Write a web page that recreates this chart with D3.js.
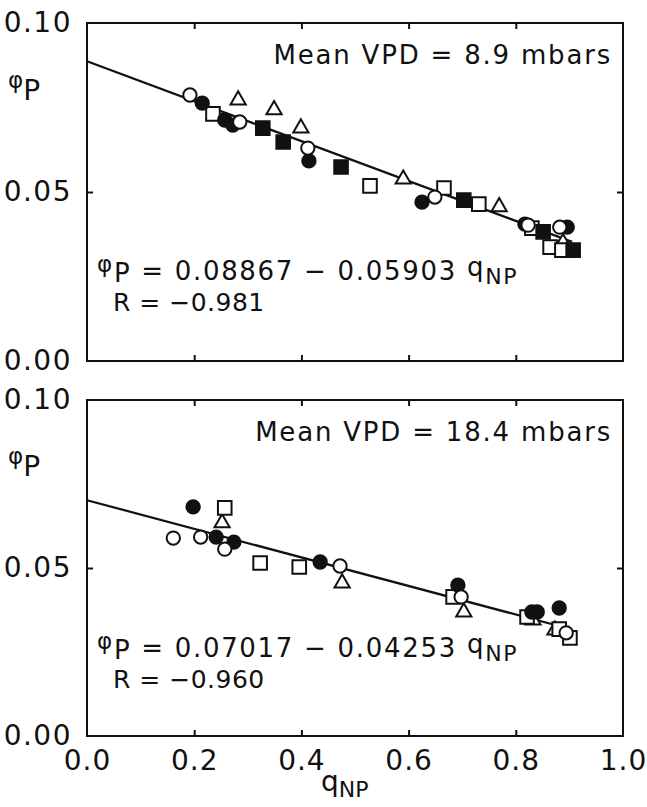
<!DOCTYPE html>
<html>
<head>
<meta charset="utf-8">
<script src="https://cdn.jsdelivr.net/npm/d3@7"></script>
<style>
  body { margin: 0; background: #fff; }
  svg { display: block; font-family: 'DejaVu Sans', sans-serif; }
  text { fill: #111; }
</style>
</head>
<body>
<svg id="chart" width="647" height="807"></svg>
<script>
// x tick labels
const xTicks = [0, 0.2, 0.4, 0.6, 0.8, 1.0]
const yTicks = [0, 0.05, 0.1]

// top panel, mean VPD 8.9 mbars  -- [qNP, phiP]
const topOpenCircle = [[0.192, 0.0787], [0.285, 0.0707], [0.412, 0.0630], [0.649, 0.0485], [0.823, 0.0402], [0.882, 0.0396]]
const topFilledCircle = [[0.215, 0.0763], [0.257, 0.0713], [0.272, 0.0698], [0.414, 0.0592], [0.625, 0.0470], [0.817, 0.0405], [0.896, 0.0396]]
const topOpenSquare = [[0.235, 0.0731], [0.528, 0.0518], [0.666, 0.0512], [0.731, 0.0464], [0.830, 0.0393], [0.864, 0.0337], [0.886, 0.0328]]
const topFilledSquare = [[0.328, 0.0689], [0.366, 0.0648], [0.474, 0.0574], [0.703, 0.0476], [0.851, 0.0382], [0.907, 0.0328]]
const topOpenTriangle = [[0.282, 0.0772], [0.349, 0.0743], [0.399, 0.0689], [0.590, 0.0538], [0.769, 0.0456], [0.888, 0.0350]]
const topFit = { a: 0.08867, b: 0.05903, r: -0.981, vpd: 8.9 }

// bottom panel, mean VPD 18.4 mbars
const botOpenCircle = [[0.161, 0.0589], [0.212, 0.0592], [0.257, 0.0556], [0.472, 0.0506], [0.698, 0.0414], [0.894, 0.0307]]
const botFilledCircle = [[0.198, 0.0682], [0.241, 0.0592], [0.274, 0.0577], [0.435, 0.0518], [0.692, 0.0449], [0.830, 0.0369], [0.840, 0.0369], [0.881, 0.0381]]
const botOpenSquare = [[0.257, 0.0679], [0.323, 0.0515], [0.396, 0.0503], [0.683, 0.0414], [0.821, 0.0354], [0.881, 0.0318], [0.901, 0.0292]]
const botOpenTriangle = [[0.252, 0.0634], [0.476, 0.0455], [0.703, 0.0369], [0.832, 0.0345], [0.873, 0.0315]]
const botFit = { a: 0.07017, b: 0.04253, r: -0.960, vpd: 18.4 }

const svg = d3.select('#chart')
const x = d3.scaleLinear().domain([0, 1]).range([87, 623])

const sym = {
  circle: d3.symbol().type(d3.symbolCircle).size(140),
  square: d3.symbol().type(d3.symbolSquare).size(185),
  triangle: d3.symbol().type(d3.symbolTriangle).size(100),
}

function panel({ top, bottom, series, fit, showX }) {
  const y = d3.scaleLinear().domain([0, 0.1]).range([bottom, top])
  const g = svg.append('g')

  // frame
  g.append('rect')
    .attr('x', x(0)).attr('y', y(0.1))
    .attr('width', x(1) - x(0)).attr('height', y(0) - y(0.1))
    .attr('fill', 'none').attr('stroke', '#111').attr('stroke-width', 2)

  // inward ticks on all sides
  const inner = [0.2, 0.4, 0.6, 0.8]
  g.append('g').attr('transform', `translate(0,${y(0)})`)
    .call(d3.axisBottom(x).tickValues(inner).tickSize(-6).tickFormat(''))
  g.append('g').attr('transform', `translate(0,${y(0.1)})`)
    .call(d3.axisTop(x).tickValues(inner).tickSize(-6).tickFormat(''))
  g.append('g').attr('transform', `translate(${x(0)},0)`)
    .call(d3.axisLeft(y).tickValues([0.05]).tickSize(-6).tickFormat(''))
  g.append('g').attr('transform', `translate(${x(1)},0)`)
    .call(d3.axisRight(y).tickValues([0.05]).tickSize(-6).tickFormat(''))
  g.selectAll('.domain').remove()
  g.selectAll('.tick line').attr('stroke', '#111').attr('stroke-width', 2)

  // y tick labels
  const yl = g.append('g').attr('transform', `translate(${x(0)},0)`)
    .call(d3.axisLeft(y).tickValues(yTicks).tickSize(0).tickPadding(15).tickFormat(d3.format('.2f')))
  yl.select('.domain').remove()
  yl.selectAll('text').attr('font-size', 28).attr('font-family', 'DejaVu Sans')
    .attr('letter-spacing', 1.5).attr('fill', '#111')

  if (showX) {
    const xl = g.append('g').attr('transform', `translate(0,${y(0)})`)
      .call(d3.axisBottom(x).tickValues(xTicks).tickSize(0).tickPadding(14).tickFormat(d3.format('.1f')))
    xl.select('.domain').remove()
    xl.selectAll('text').attr('font-size', 28).attr('font-family', 'DejaVu Sans')
      .attr('letter-spacing', 1).attr('fill', '#111')
  }

  // y label
  const lab = g.append('text').attr('x', 8).attr('y', y(0.08) + 5).attr('font-size', 28)
  lab.append('tspan').text('φ').attr('font-size', 23).attr('dy', -8)
  lab.append('tspan').text('P').attr('dy', 12)

  // regression line
  const line = d3.line().x((d) => x(d)).y((d) => y(fit.a - fit.b * d))
  g.append('path').datum([0, 0.905]).attr('d', line)
    .attr('fill', 'none').attr('stroke', '#111').attr('stroke-width', 2.2)

  // points
  for (const s of series) {
    g.append('g').selectAll('path').data(s.data).join('path')
      .attr('transform', (d) => `translate(${x(d[0])},${y(d[1])})`)
      .attr('d', sym[s.shape])
      .attr('fill', s.filled ? '#111' : '#fff')
      .attr('stroke', '#111').attr('stroke-width', 2)
  }

  // annotations
  g.append('text').attr('x', 612).attr('y', y(0.1) + 41)
    .attr('text-anchor', 'end').attr('font-size', 26).attr('letter-spacing', 1.8)
    .text(`Mean VPD = ${fit.vpd} mbars`)

  const eq = g.append('text').attr('x', 97).attr('y', y(0.1) + 257).attr('font-size', 26).attr('letter-spacing', 1.7)
  eq.append('tspan').text('φ').attr('font-size', 23).attr('dy', -8)
  eq.append('tspan').text('P').attr('dy', 10)
  eq.append('tspan').text(` = ${fit.a.toFixed(5)} − ${fit.b.toFixed(5)} `).attr('dy', -2)
  eq.append('tspan').text('q').attr('dy', -4)
  eq.append('tspan').text('NP').attr('font-size', 22).attr('dy', 8)

  g.append('text').attr('x', 113).attr('y', y(0.1) + 288).attr('font-size', 25).attr('letter-spacing', 0.5)
    .text(`R = −${Math.abs(fit.r).toFixed(3)}`)
}

panel({
  top: 23, bottom: 361, fit: topFit, showX: false,
  series: [
    { data: topOpenTriangle, shape: 'triangle', filled: false },
    { data: topOpenSquare, shape: 'square', filled: false },
    { data: topFilledSquare, shape: 'square', filled: true },
    { data: topFilledCircle, shape: 'circle', filled: true },
    { data: topOpenCircle, shape: 'circle', filled: false },
  ],
})

panel({
  top: 400, bottom: 736, fit: botFit, showX: true,
  series: [
    { data: botOpenTriangle, shape: 'triangle', filled: false },
    { data: botOpenSquare, shape: 'square', filled: false },
    { data: botFilledCircle, shape: 'circle', filled: true },
    { data: botOpenCircle, shape: 'circle', filled: false },
  ],
})

// x axis label
const xlab = svg.append('text').attr('x', 321).attr('y', 791).attr('font-size', 28)
xlab.append('tspan').text('q')
xlab.append('tspan').text('NP').attr('font-size', 22).attr('dy', 6)
</script>
</body>
</html>
